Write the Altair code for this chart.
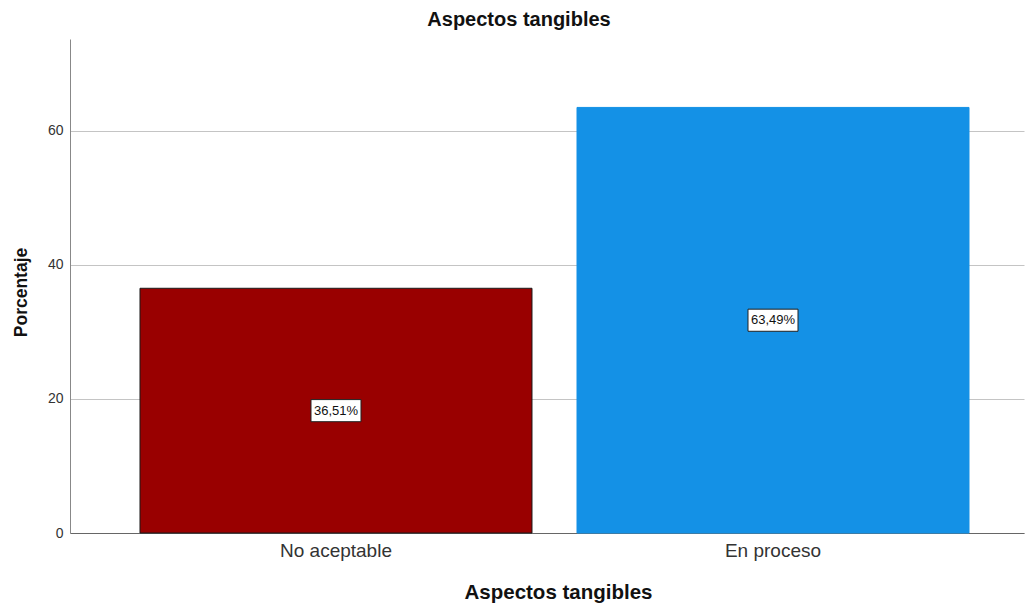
import altair as alt
import pandas as pd

# Percentage of respondents per level
categories = ["No aceptable", "En proceso"]
percentages = [36.51, 63.49]
fill_colors = ["#990000", "#1491e6"]
edge_colors = ["#1a1a1a", "#1491e6"]

labels = [f"{v:.2f}".replace(".", ",") + "%" for v in percentages]
df = pd.DataFrame({"nivel": categories, "pct": percentages, "etiqueta": labels})

FONT = "Liberation Sans"

x_enc = alt.X(
    "nivel:N",
    sort=categories,
    scale=alt.Scale(paddingInner=0.103, paddingOuter=0.143, align=0.56),
    axis=alt.Axis(
        title="Aspectos tangibles",
        labelAngle=0,
        labelFontSize=19,
        labelColor="#333333",
        labelFont=FONT,
        labelPadding=8,
        ticks=False,
        domainColor="#666666",
        titleFont=FONT,
        titleFontSize=20.5,
        titleFontWeight="bold",
        titleColor="#111111",
        titleX=488,
        titleY=65,
        titleBaseline="alphabetic",
    ),
)

y_scale = alt.Scale(domain=[0, 73.7], nice=False)

y_axis = alt.Axis(
    title="Porcentaje",
    values=[0, 20, 40, 60],
    labelFontSize=14,
    labelFont=FONT,
    labelColor="#333333",
    ticks=False,
    labelPadding=7,
    domainColor="#888888",
    gridColor="#c4c4c4",
    titleFont=FONT,
    titleFontSize=17.5,
    titleFontWeight="bold",
    titleColor="#111111",
    titlePadding=17,
    titleY=253,
)

bars = alt.Chart(df).mark_bar(strokeWidth=1).encode(
    x=x_enc,
    y=alt.Y("pct:Q", scale=y_scale, axis=y_axis),
    color=alt.Color("nivel:N", scale=alt.Scale(domain=categories, range=fill_colors), legend=None),
    stroke=alt.Stroke("nivel:N", scale=alt.Scale(domain=categories, range=edge_colors), legend=None),
)

# White label boxes centred at half the bar height
boxes = alt.Chart(df).transform_calculate(
    lo="datum.pct / 2 - 1.65", hi="datum.pct / 2 + 1.65"
).mark_bar(width=50, fill="white", stroke="#222222", strokeWidth=1).encode(
    x=alt.X("nivel:N", sort=categories),
    y=alt.Y("lo:Q", scale=y_scale, axis=y_axis),
    y2="hi:Q",
)

texts = alt.Chart(df).transform_calculate(mid="datum.pct / 2").mark_text(
    fontSize=13, font=FONT, color="#111111", baseline="middle", align="center"
).encode(
    x=alt.X("nivel:N", sort=categories),
    y=alt.Y("mid:Q", scale=y_scale, axis=y_axis),
    text="etiqueta:N",
)

chart = (
    alt.layer(bars, boxes, texts)
    .properties(
        width=954,
        height=494,
        title=alt.TitleParams(
            "Aspectos tangibles",
            font=FONT,
            fontSize=20,
            fontWeight="bold",
            color="#111111",
            offset=9,
            dx=-28,
        ),
        autosize=alt.AutoSizeParams(type="none"),
        padding={"left": 70, "top": 39, "right": 2, "bottom": 70},
    )
    .configure(background="white")
    .configure_view(strokeWidth=0, stroke="transparent")
    .configure_axisX(grid=False)
)

chart.save("out.html", embed_options={"renderer": "svg", "actions": False})
